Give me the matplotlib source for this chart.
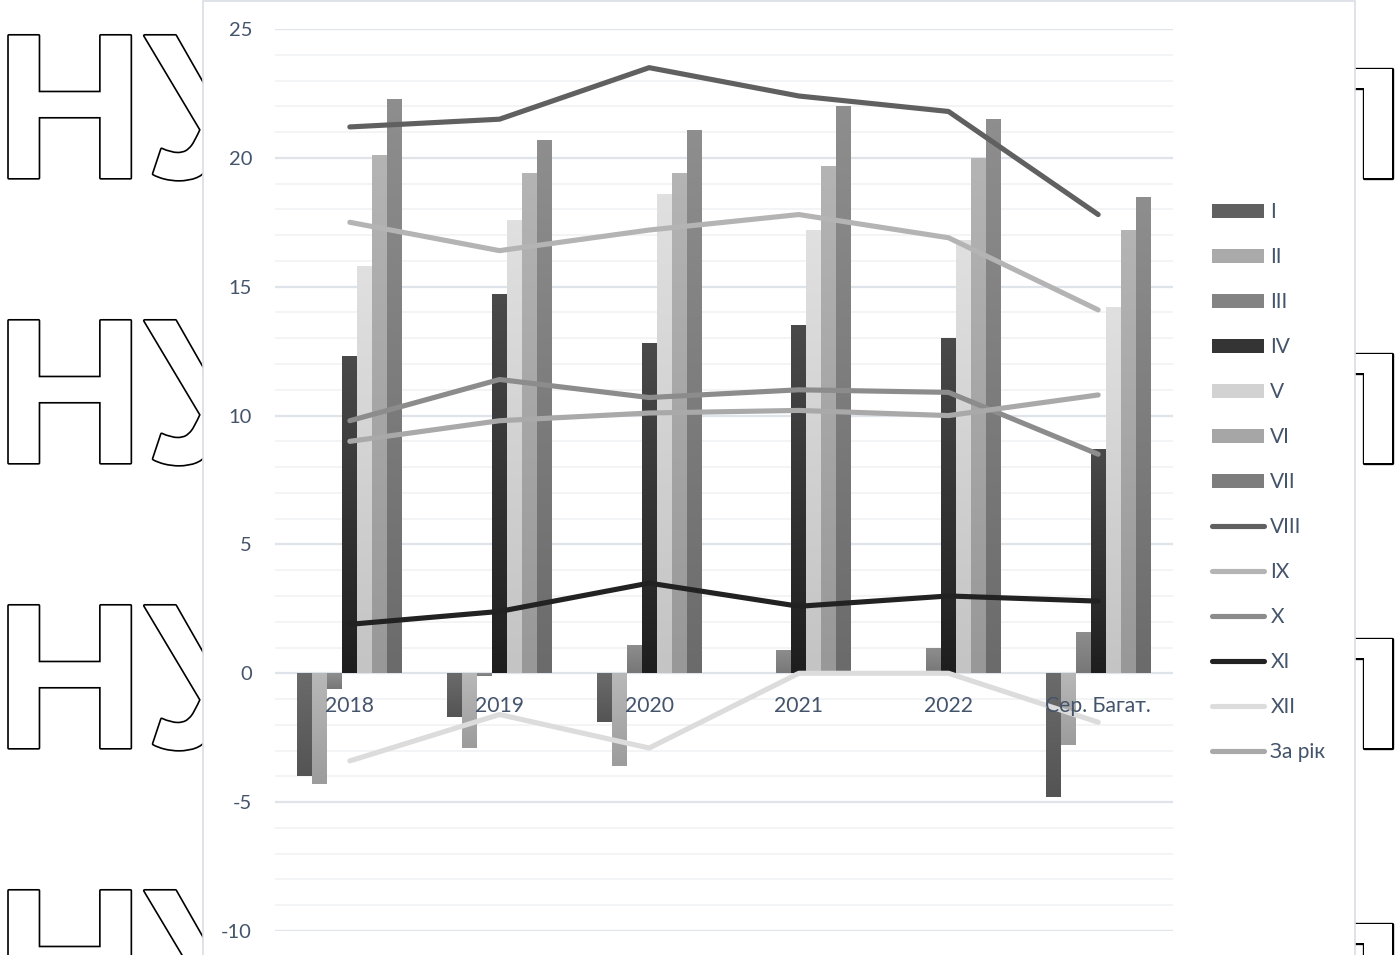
import numpy as np
import matplotlib
matplotlib.use("Agg")
import matplotlib.pyplot as plt
from matplotlib.colors import LinearSegmentedColormap, to_rgb
from matplotlib.patches import Rectangle
import matplotlib.patheffects as pe

# ---------------- data ----------------
categories = ["2018", "2019", "2020", "2021", "2022", "Сер. Багат."]

bar_names = ["I", "II", "III", "IV", "V", "VI", "VII"]
m_I   = [-4.0, -1.7, -1.9, 0.0, 0.0, -4.8]
m_II  = [-4.3, -2.9, -3.6, 0.0, 0.0, -2.8]
m_III = [-0.6, -0.1, 1.1, 0.9, 1.0, 1.6]
m_IV  = [12.3, 14.7, 12.8, 13.5, 13.0, 8.7]
m_V   = [15.8, 17.6, 18.6, 17.2, 16.8, 14.2]
m_VI  = [20.1, 19.4, 19.4, 19.7, 20.0, 17.2]
m_VII = [22.3, 20.7, 21.1, 22.0, 21.5, 18.5]

line_names = ["VIII", "IX", "X", "XI", "XII", "За рік"]
m_VIII = [21.2, 21.5, 23.5, 22.4, 21.8, 17.8]
m_IX   = [17.5, 16.4, 17.2, 17.8, 16.9, 14.1]
m_X    = [9.8, 11.4, 10.7, 11.0, 10.9, 8.5]
m_XI   = [1.9, 2.4, 3.5, 2.6, 3.0, 2.8]
m_XII  = [-3.4, -1.6, -2.9, 0.0, 0.0, -1.9]
year   = [9.0, 9.8, 10.1, 10.2, 10.0, 10.8]

y_ticks = [-10, -5, 0, 5, 10, 15, 20, 25]
y_tick_labels = ["-10", "-5", "0", "5", "10", "15", "20", "25"]

bar_values = [m_I, m_II, m_III, m_IV, m_V, m_VI, m_VII]
line_values = [m_VIII, m_IX, m_X, m_XI, m_XII, year]

# ---------------- styles ----------------
bar_grad = [("#6b6b6b", "#545454"),
            ("#b8b8b8", "#9c9c9c"),
            ("#8e8e8e", "#777777"),
            ("#4a4a4a", "#1e1e1e"),
            ("#e0e0e0", "#c4c4c4"),
            ("#b4b4b4", "#989898"),
            ("#8e8e8e", "#6b6b6b")]
line_colors = ["#606060", "#b4b4b4", "#8c8c8c", "#222222", "#dcdcdc", "#a9a9a9"]
text_color = "#44546a"
FONT = ["Lato", "DejaVu Sans"]

W, H = 1399, 955
fig = plt.figure(figsize=(W / 100, H / 100), dpi=100)
fig.patch.set_facecolor("white")

def fx(px):
    return px / W

def fy(py):
    return 1 - py / H

# ---------------- watermark ----------------
wm_fx = ["Liberation Sans", "DejaVu Sans"]
for base in [178, 463, 748, 1033]:
    for txt, xpos, ha in [("НУ", -5, "left"), ("п", 1407, "right")]:
        t = fig.text(fx(xpos), fy(base), txt, fontsize=149, fontweight="bold",
                     family=wm_fx, color="white", ha=ha, va="baseline", zorder=0)
        t.set_path_effects([pe.Stroke(linewidth=2.4, foreground="black",
                                      joinstyle="round"), pe.Normal()])

# chart area box
box = Rectangle((fx(203), fy(958)), fx(1355) - fx(203), fy(1) - fy(958),
                transform=fig.transFigure, facecolor="white",
                edgecolor="#d9dde4", linewidth=1.2, zorder=1)
fig.patches.append(box)

# ---------------- axes ----------------
left, right, top, bottom = 275, 1173, 29, 931
ax = fig.add_axes([fx(left), fy(bottom), fx(right) - fx(left), fy(top) - fy(bottom)])
ax.set_zorder(2)
ax.patch.set_alpha(0)

x = np.arange(len(categories))
bw = 0.1
handles = []
for k, (vals, (ctop, cbot)) in enumerate(zip(bar_values, bar_grad)):
    mid = tuple((a + b) / 2 for a, b in zip(to_rgb(ctop), to_rgb(cbot)))
    cont = ax.bar(x + (k - 3) * bw, vals, width=bw, color=mid, edgecolor="none",
                  zorder=3, label=bar_names[k])
    cmap = LinearSegmentedColormap.from_list("g%d" % k, [ctop, cbot])
    grad = np.linspace(0, 1, 128).reshape(-1, 1)
    for rect in cont.patches:
        x0 = rect.get_x()
        w = rect.get_width()
        y0 = rect.get_y()
        h = rect.get_height()
        if h == 0:
            continue
        ylo, yhi = min(y0, y0 + h), max(y0, y0 + h)
        im = ax.imshow(grad, cmap=cmap, extent=[x0, x0 + w, ylo, yhi],
                       origin="upper", aspect="auto", zorder=3.1,
                       interpolation="bilinear")
        im.set_clip_path(rect)
    handles.append(cont.patches[0])

for name, vals, c in zip(line_names, line_values, line_colors):
    ln, = ax.plot(x, vals, color=c, linewidth=3.7, solid_capstyle="round",
                  solid_joinstyle="round", zorder=5, label=name)
    handles.append(ln)

ax.set_xlim(-0.5, len(categories) - 0.5)
ax.set_ylim(-10, 25)

# grid
ax.set_yticks(y_ticks)
ax.set_yticklabels(y_tick_labels, family=FONT, fontsize=14.5, color=text_color)
ax.set_yticks(np.arange(-10, 26, 1), minor=True)
ax.yaxis.grid(True, which="major", color="#dfe3ea", linewidth=1.6, zorder=0)
ax.yaxis.grid(True, which="minor", color="#f1f2f5", linewidth=1.2, zorder=0)
ax.set_axisbelow(True)
ax.tick_params(axis="y", which="both", length=0, pad=16.5)
ax.set_xticks([])
for s in ax.spines.values():
    s.set_visible(False)

# category labels next to the zero axis
for i, c in enumerate(categories):
    ax.annotate(c, (i, 0), xytext=(0, -23.5), textcoords="offset points",
                ha="center", va="center", family=FONT, fontsize=15.2,
                color=text_color, zorder=6)

# legend
leg = fig.legend(handles=handles, labels=bar_names + line_names,
                 loc="upper left", bbox_to_anchor=(fx(1212), fy(202)),
                 frameon=False, prop={"family": FONT, "size": 15},
                 handlelength=2.5, handleheight=0.65, handletextpad=0.3,
                 labelspacing=1.2, borderpad=0, borderaxespad=0)
for t in leg.get_texts():
    t.set_color(text_color)
leg.set_zorder(3)

fig.savefig("out.png", dpi=100, facecolor="white")
